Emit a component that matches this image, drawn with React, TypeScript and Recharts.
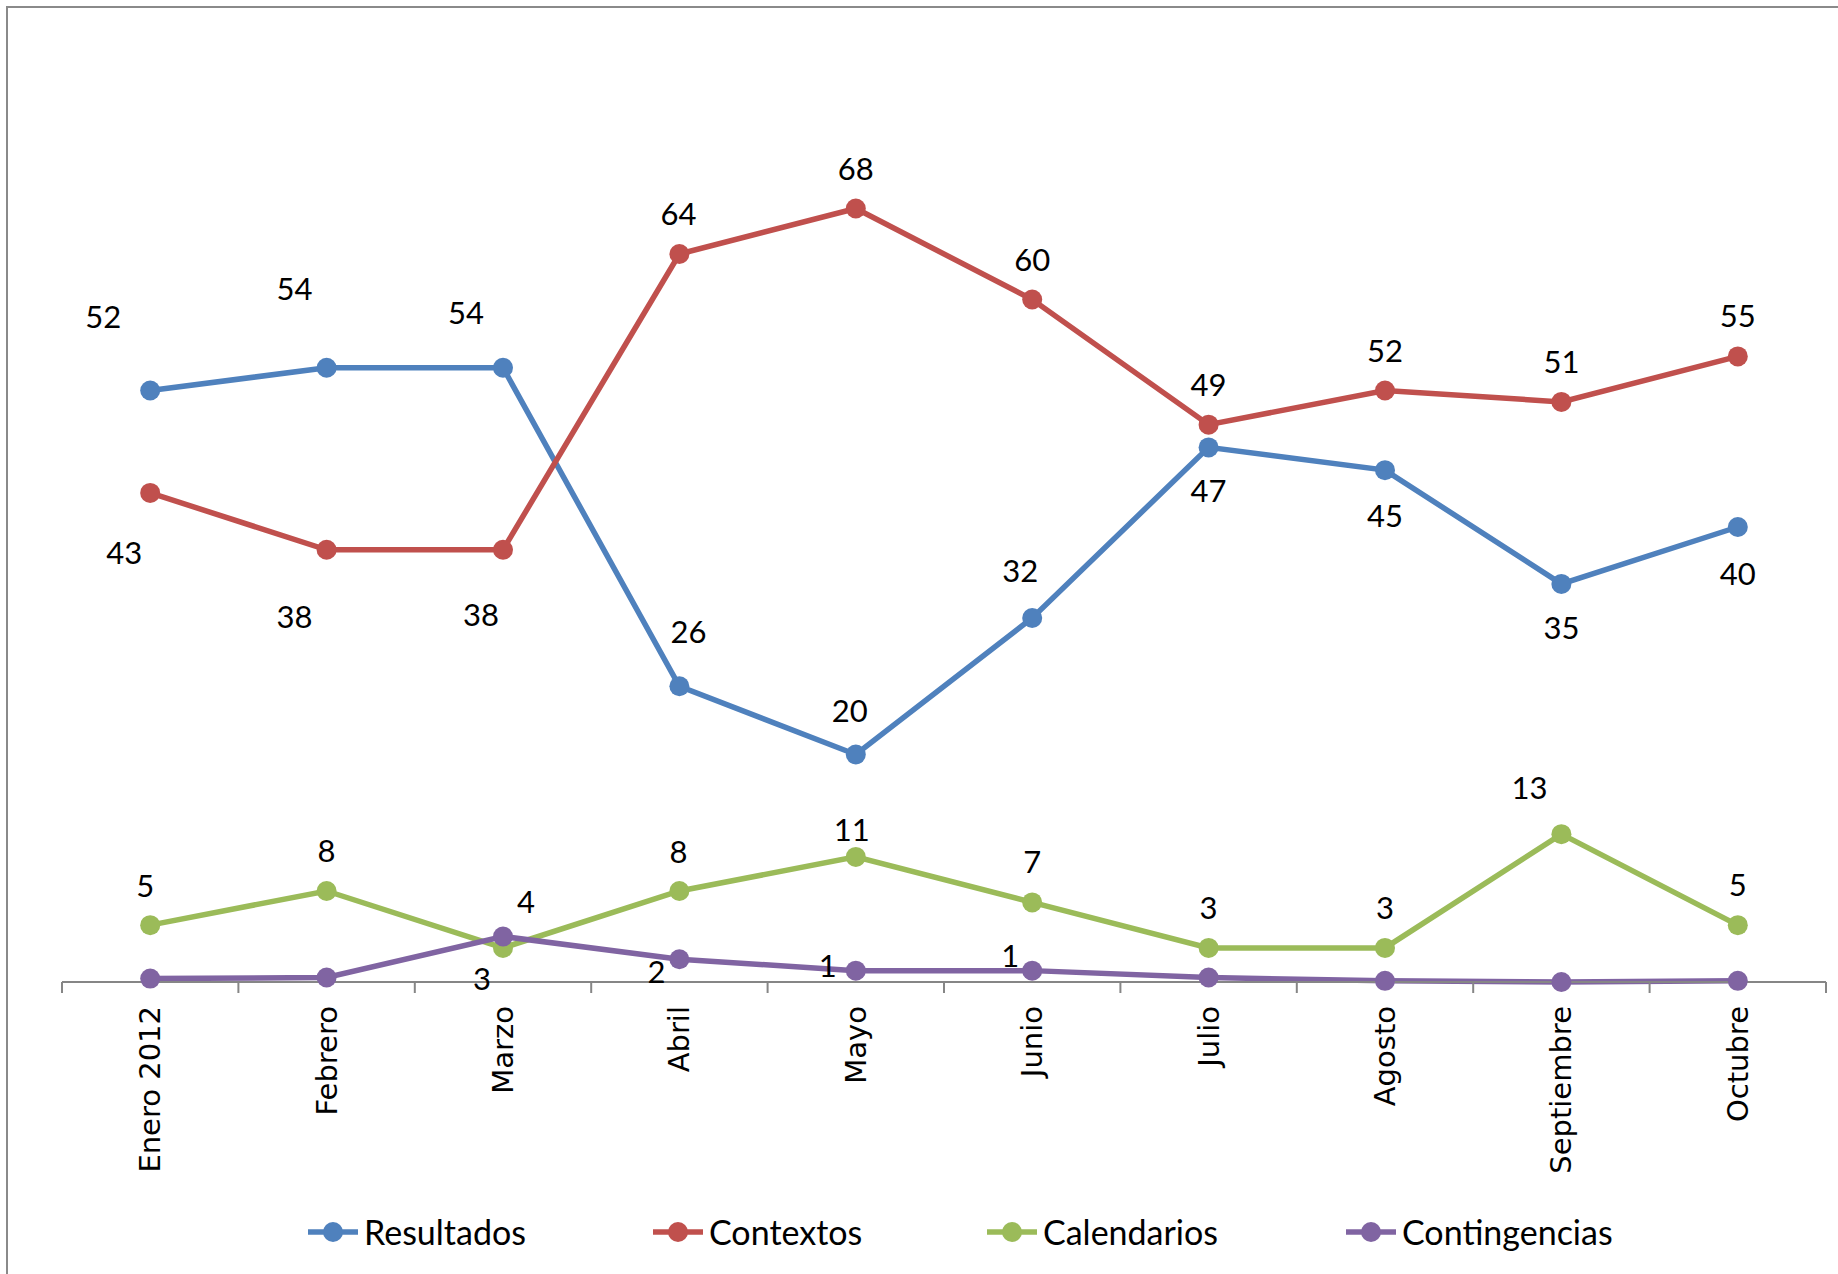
import React from 'react';
import { LineChart, Line, XAxis, YAxis, Legend, LabelList } from 'recharts';

// Months on the category axis
const MONTHS = ['Enero 2012', 'Febrero', 'Marzo', 'Abril', 'Mayo', 'Junio', 'Julio', 'Agosto', 'Septiembre', 'Octubre'];

// Series values (%)
const RESULTADOS = [52, 54, 54, 26, 20, 32, 47, 45, 35, 40];
const CONTEXTOS = [43, 38, 38, 64, 68, 60, 49, 52, 51, 55];
const CALENDARIOS = [5, 8, 3, 8, 11, 7, 3, 3, 13, 5];
const CONTINGENCIAS = [0.3, 0.4, 4, 2, 1, 1, 0.4, 0.1, 0, 0.1];

// Layout
const W = 1838;
const H = 1274;
const MARGIN = { top: 72, right: 12, left: 62, bottom: 20 };
const PLOT_W = W - MARGIN.left - MARGIN.right;
const HALF_STEP = PLOT_W / MONTHS.length / 2;
const X_AXIS_H = 228;

const COLORS = {
  resultados: '#4F81BD',
  contextos: '#C0504D',
  calendarios: '#9BBB59',
  contingencias: '#8064A2',
};

// Per-point label placement (dx, dy from the marker); null = no label
const RES_LABEL_POS: ([number, number] | null)[] = [
  [-47, -75], [-32, -80], [-37, -56], [9, -55], [-6, -45], [-12, -48], [0, 43], [0, 45], [0, 43], [0, 46],
];
const CTX_LABEL_POS: ([number, number] | null)[] = [
  [-26, 59], [-32, 66], [-22, 64], [-1, -41], [0, -41], [0, -41], [0, -41], [0, -41], [0, -41], [0, -41],
];
const CAL_LABEL_POS: ([number, number] | null)[] = [
  [-5, -40], [0, -41], [-21, 30], [-1, -40], [-4, -28], [0, -41], [0, -41], [0, -41], [-32, -47], [0, -41],
];
const CON_LABEL_POS: ([number, number] | null)[] = [
  null, null, [23, -36], [-23, 12], [-28, -6], [-22, -16], null, null, null, null,
];

const data = MONTHS.map((mes, i) => ({
  mes,
  resultados: RESULTADOS[i],
  contextos: CONTEXTOS[i],
  calendarios: CALENDARIOS[i],
  contingencias: CONTINGENCIAS[i],
}));

const LABEL_FONT = 'Lato, "Open Sans", sans-serif';

const makeLabel = (pos: ([number, number] | null)[]) => (props: any) => {
  const { index, value } = props;
  const vb = props.viewBox || {};
  const px = props.x ?? vb.x;
  const py = props.y ?? vb.y;
  const off = pos[index];
  if (!off || px == null || py == null) return null;
  return (
    <text
      x={px + off[0]}
      y={py + off[1]}
      textAnchor="middle"
      dominantBaseline="central"
      fontFamily={LABEL_FONT}
      fontSize={31}
      fill="#000"
    >
      {Math.round(value)}
    </text>
  );
};

const MonthTick = (props: any) => {
  const { x, y, payload, index, visibleTicksCount } = props;
  const last = index === (visibleTicksCount ?? MONTHS.length) - 1;
  const ty = y + 24;
  return (
    <g>
      <line x1={x - HALF_STEP} y1={y} x2={x - HALF_STEP} y2={y + 11} stroke="#868686" strokeWidth={2} />
      {last && <line x1={x + HALF_STEP} y1={y} x2={x + HALF_STEP} y2={y + 11} stroke="#868686" strokeWidth={2} />}
      <text
        x={x}
        y={ty}
        transform={`rotate(-90, ${x}, ${ty})`}
        textAnchor="end"
        dominantBaseline="central"
        fontFamily='"DejaVu Sans", Verdana, sans-serif'
        fontSize={29}
        fill="#000"
      >
        {payload.value}
      </text>
    </g>
  );
};

const LEGEND_ITEMS = [
  { name: 'Resultados', color: COLORS.resultados, left: 308 },
  { name: 'Contextos', color: COLORS.contextos, left: 653 },
  { name: 'Calendarios', color: COLORS.calendarios, left: 987 },
  { name: 'Contingencias', color: COLORS.contingencias, left: 1346 },
];

const LegendRow = () => (
  <div style={{ position: 'relative', width: W, height: 44 }}>
    {LEGEND_ITEMS.map((it) => (
      <div
        key={it.name}
        style={{
          position: 'absolute',
          left: it.left,
          top: 0,
          height: 44,
          display: 'flex',
          alignItems: 'center',
          whiteSpace: 'nowrap',
        }}
      >
        <svg width={50} height={24} style={{ display: 'block' }}>
          <line x1={0} y1={12} x2={50} y2={12} stroke={it.color} strokeWidth={5.5} />
          <circle cx={25} cy={12} r={10} fill={it.color} />
        </svg>
        <span style={{ marginLeft: 6, fontFamily: LABEL_FONT, fontSize: 34, color: '#000', lineHeight: '44px' }}>
          {it.name}
        </span>
      </div>
    ))}
  </div>
);

const SERIES = [
  { key: 'resultados', name: 'Resultados', pos: RES_LABEL_POS },
  { key: 'contextos', name: 'Contextos', pos: CTX_LABEL_POS },
  { key: 'calendarios', name: 'Calendarios', pos: CAL_LABEL_POS },
  { key: 'contingencias', name: 'Contingencias', pos: CON_LABEL_POS },
] as const;

export default function App() {
  return (
    <div
      style={{
        position: 'absolute',
        left: 0,
        top: 0,
        width: W,
        height: H,
        overflow: 'hidden',
        background: '#fff',
      }}
    >
      <div
        style={{
          position: 'absolute',
          left: 6,
          top: 6,
          width: W + 20,
          height: H + 20,
          borderLeft: '2px solid #8a8a8a',
          borderTop: '2px solid #8a8a8a',
        }}
      />
      <div style={{ position: 'absolute', left: 0, top: 0 }}>
        <LineChart width={W} height={H} data={data} margin={MARGIN}>
          <XAxis
            dataKey="mes"
            interval={0}
            height={X_AXIS_H}
            padding={{ left: HALF_STEP, right: HALF_STEP }}
            axisLine={{ stroke: '#868686', strokeWidth: 2 }}
            tickLine={false}
            tickSize={0}
            tickMargin={0}
            tick={<MonthTick />}
          />
          <YAxis hide domain={[0, 80]} />
          <Legend
            verticalAlign="bottom"
            content={() => <LegendRow />}
            wrapperStyle={{ left: 0, width: W, height: 44 }}
          />
          {SERIES.map((s) => (
            <Line
              key={s.key}
              type="linear"
              dataKey={s.key}
              name={s.name}
              stroke={COLORS[s.key]}
              strokeWidth={5.5}
              dot={{ r: 10, fill: COLORS[s.key], stroke: COLORS[s.key], strokeWidth: 0 }}
              activeDot={false}
              isAnimationActive={false}
            >
              <LabelList dataKey={s.key} content={makeLabel(s.pos)} />
            </Line>
          ))}
        </LineChart>
      </div>
    </div>
  );
}
